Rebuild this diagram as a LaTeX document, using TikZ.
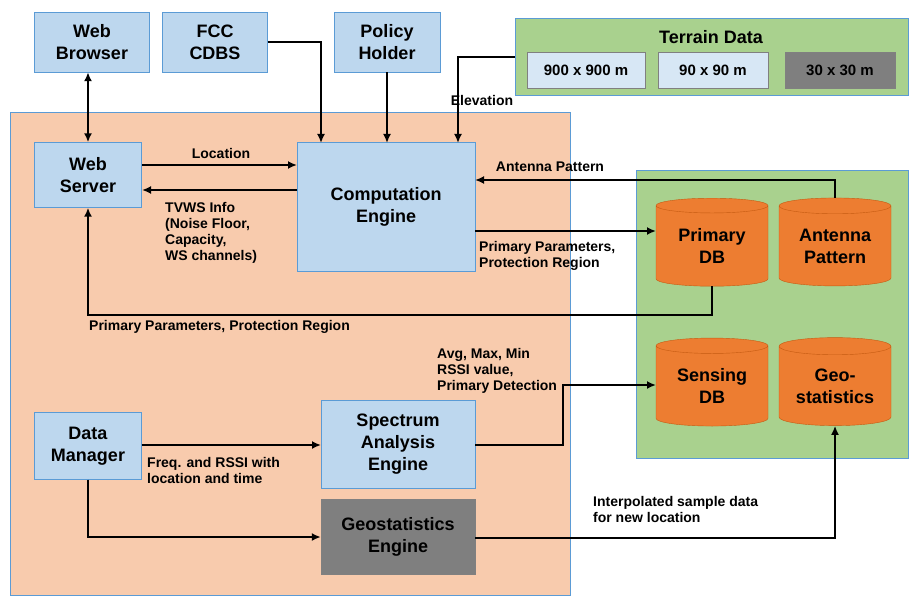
\documentclass[tikz,border=0pt]{standalone}
\usepackage{fontspec}
\setmainfont{Liberation Sans}
\usetikzlibrary{shapes.geometric,arrows.meta}
\definecolor{lb}{HTML}{BDD7EE}
\definecolor{bb}{HTML}{5B9BD5}
\definecolor{org}{HTML}{F8CBAD}
\definecolor{grn}{HTML}{A9D18E}
\definecolor{cyl}{HTML}{ED7D31}
\definecolor{cylb}{HTML}{C55A11}
\definecolor{dg}{HTML}{7F7F7F}
\begin{document}
\begin{tikzpicture}[x=1pt,y=-1pt,
 box/.style={draw=bb,fill=lb,align=center,font=\bfseries\fontsize{18}{22}\selectfont,inner sep=0pt},
 lab/.style={font=\bfseries\fontsize{14}{16}\selectfont,align=left,inner sep=1pt},
 arr/.style={-{Latex[length=9pt,width=8pt]},line width=1.8pt},
 cy/.style={cylinder,shape border rotate=90,aspect=0.22,draw=cylb,fill=cyl,minimum width=112pt,minimum height=88pt,align=center,font=\bfseries\fontsize{18}{22}\selectfont,inner sep=0pt}]
\useasboundingbox (0,0) rectangle (923,607);
\fill[white] (0,0) rectangle (923,607);
% regions
\draw[bb,fill=org] (10,112) rectangle (570,595);
\draw[bb,fill=grn] (636,170) rectangle (908,458);
\draw[bb,fill=grn] (515,18) rectangle (908,95);
\node[font=\bfseries\fontsize{18}{22}\selectfont] (td) at (711,37) {Terrain Data};
\node[draw=gray,fill=lb!60,minimum width=118pt,minimum height=36pt,font=\bfseries\fontsize{15}{18}\selectfont] (t1) at (586,70) {900 x 900 m};
\node[draw=gray,fill=lb!60,minimum width=110pt,minimum height=36pt,font=\bfseries\fontsize{15}{18}\selectfont] (t2) at (713,70) {90 x 90 m};
\node[draw=gray,fill=dg,minimum width=110pt,minimum height=36pt,font=\bfseries\fontsize{15}{18}\selectfont] (t3) at (840,70) {30 x 30 m};
% boxes
\node[box,minimum width=115pt,minimum height=60pt] (wb) at (92,42) {Web\\Browser};
\node[box,minimum width=105pt,minimum height=60pt] (fcc) at (215,42) {FCC\\CDBS};
\node[box,minimum width=106pt,minimum height=60pt] (ph) at (387,42) {Policy\\Holder};
\node[box,minimum width=107pt,minimum height=65pt] (ws) at (88,175) {Web\\Server};
\node[box,minimum width=178pt,minimum height=129pt] (ce) at (386,207) {Computation\\Engine};
\node[box,minimum width=107pt,minimum height=67pt] (dm) at (88,446) {Data\\Manager};
\node[box,minimum width=154pt,minimum height=88pt] (sa) at (398,444) {Spectrum\\Analysis\\Engine};
\node[box,fill=dg,draw=gray,minimum width=154pt,minimum height=75pt] (ge) at (398,537) {Geostatistics\\Engine};
% cylinders
\node[cy] (pdb) at (712,246) {Primary\\DB};
\node[cy] (ap) at (835,246) {Antenna\\Pattern};
\node[cy] (sdb) at (712,386) {Sensing\\DB};
\node[cy] (gs) at (835,386) {Geo-\\statistics};
% connectors
\draw[arr,{Latex[length=9pt,width=8pt]}-{Latex[length=9pt,width=8pt]}] (wb.south -| ws.north) -- (ws.north);
\draw[arr] (fcc.east |- 0,42) -| (321,143);
\draw[arr] (ph.south) -- (387,143);
\draw[arr] (515,57) -| (458,143);
\node[lab] (le) at (482,100) {Elevation};
\draw[arr] (142,165) -- (297,165);
\node[lab] (ll) at (221,153) {Location};
\draw[arr] (297,190) -- (142,190);
\node[lab,anchor=north west] (lt) at (164,201) {TVWS Info\\(Noise Floor,\\Capacity,\\WS channels)};
\draw[arr] (ap.north) |- (475,180);
\node[lab] (la) at (550,167) {Antenna Pattern};
\draw[arr] (475,231) -- (656,231);
\node[lab,anchor=north west] (lp) at (478,240) {Primary Parameters,\\Protection Region};
\draw[arr] (pdb.south) |- (88,315) -- (ws.south);
\node[lab,anchor=west] (lp2) at (88,327) {Primary Parameters, Protection Region};
\draw[arr] (dm.east |- 0,445) -- (321,445);
\node[lab,anchor=north west] (lf) at (146,456) {Freq. and RSSI with\\location and time};
\draw[arr] (475,445) -| (563,385) -- (656,385);
\node[lab,anchor=north west] (lr) at (436,347) {Avg, Max, Min\\RSSI value,\\Primary Detection};
\draw[arr] (dm.south) |- (ge.west);
\draw[arr] (ge.east |- 0,538) -| (gs.south);
\node[lab,anchor=north west] (li) at (592,495) {Interpolated sample data\\for new location};
\end{tikzpicture}
\end{document}
